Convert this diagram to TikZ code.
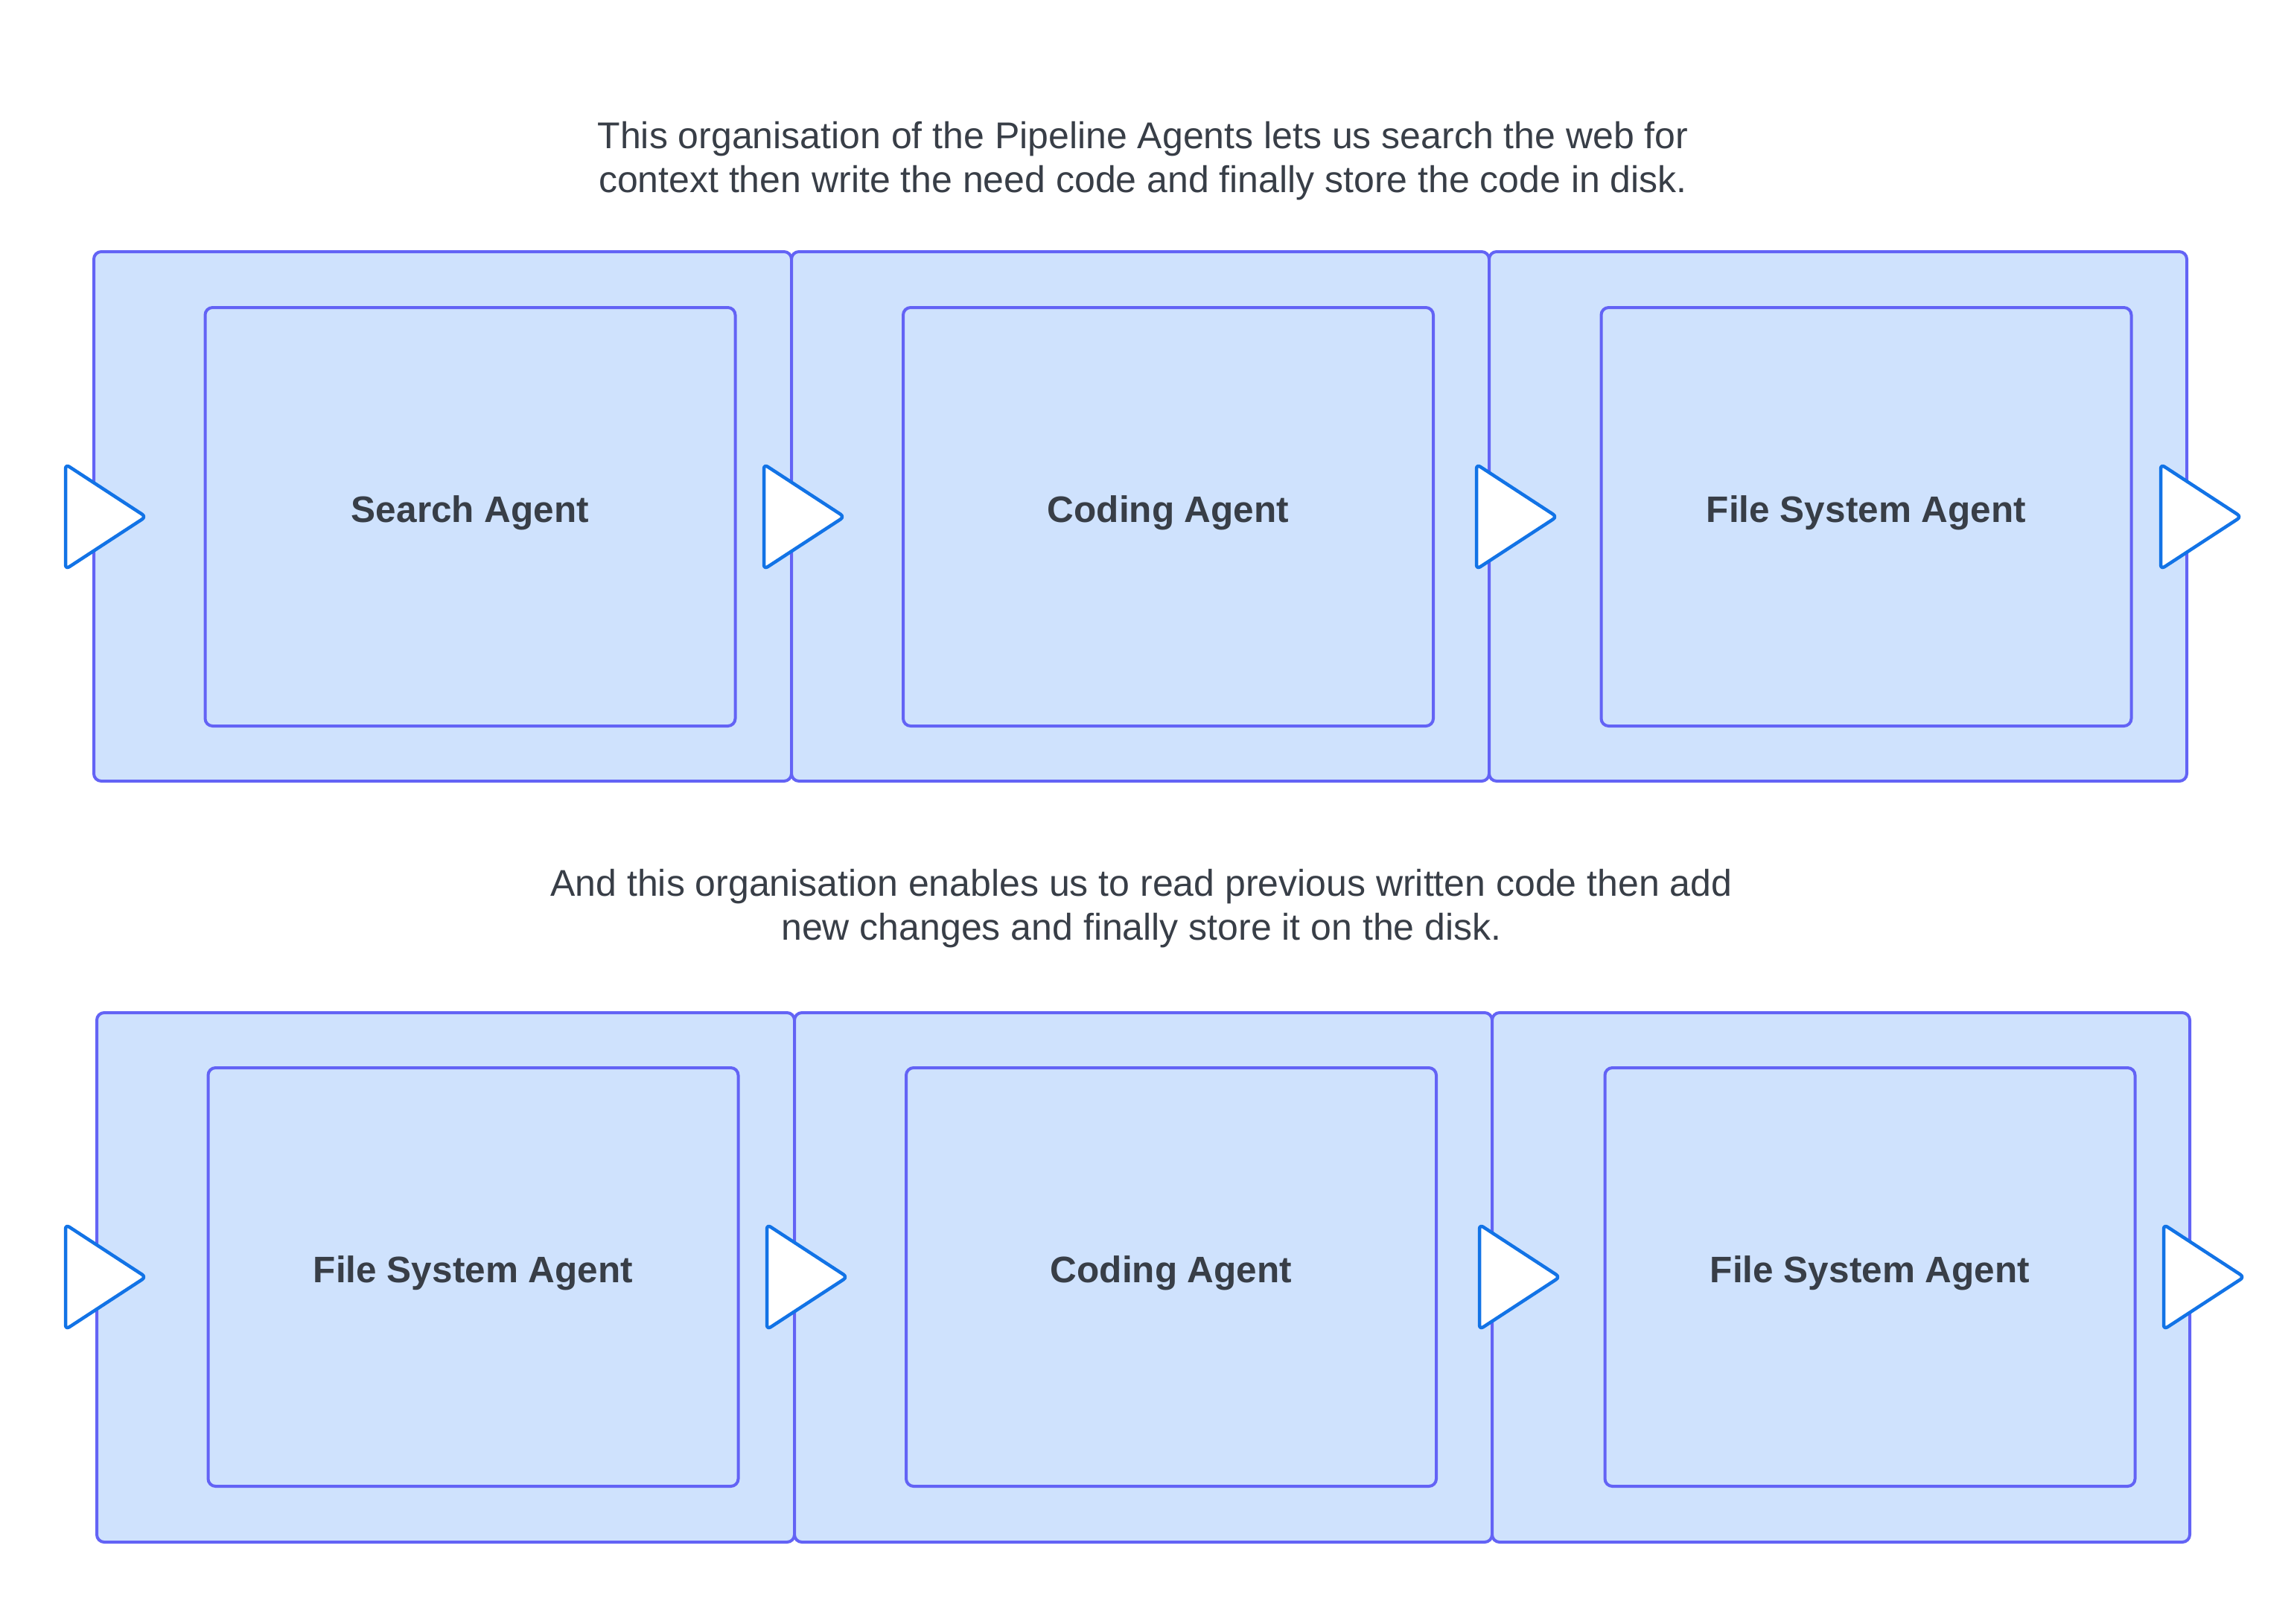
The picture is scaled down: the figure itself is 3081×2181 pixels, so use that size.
\documentclass[tikz,border=0pt]{standalone}
\usepackage{fontspec}
\setmainfont{Liberation Sans}
\definecolor{boxfill}{HTML}{CFE2FD}
\definecolor{boxline}{HTML}{6363F5}
\definecolor{triline}{HTML}{1273E6}
\definecolor{txt}{HTML}{383E47}
\newcommand{\agentlabel}[1]{\raisebox{-7.5pt}[0pt][0pt]{#1}}
\begin{document}
\begin{tikzpicture}[x=1pt,y=-1pt,
  outerbox/.style={draw=boxline,fill=boxfill,line width=4pt,rounded corners=10pt,minimum width=937pt,minimum height=711pt,inner sep=0pt},
  innerbox/.style={draw=boxline,fill=boxfill,line width=4pt,rounded corners=10pt,minimum width=712pt,minimum height=562pt,inner sep=0pt,
    font=\fontsize{49.5}{59}\selectfont\bfseries,text=txt},
  para/.style={align=center,font=\fontsize{50}{59}\selectfont,text=txt,inner sep=0pt},
  tri/.style={draw=triline,fill=white,line width=4.5pt,rounded corners=6pt,line join=round}
]
\useasboundingbox (0,0) rectangle (3081,2181);
% top paragraph
\node[para] (p1) at (1535,216) {This organisation of the Pipeline Agents lets us search the web for\\context then write the need code and finally store the code in disk.};
% top row
\node[outerbox] (o1) at (594.5,693.5) {};
\node[outerbox] (o2) at (1531.5,693.5) {};
\node[outerbox] (o3) at (2468.5,693.5) {};
\node[innerbox] (i1) at (631.5,694) {\agentlabel{Search Agent}};
\node[innerbox] (i2) at (1569,694) {\agentlabel{Coding Agent}};
\node[innerbox] (i3) at (2506.5,694) {\agentlabel{File System Agent}};
\foreach \n/\x in {a1/88,a2/1026,a3/1983,a4/2902}{
  \coordinate (\n) at (\x,694);
  \draw[tri] (\n) ++(0,-70.5) -- ++(108,70.5) -- ++(-108,70.5) -- cycle;
}
% bottom paragraph
\node[para] (p2) at (1533,1220) {And this organisation enables us to read previous written code then add\\new changes and finally store it on the disk.};
% bottom row
\node[outerbox] (o4) at (598.5,1715.5) {};
\node[outerbox] (o5) at (1535.5,1715.5) {};
\node[outerbox] (o6) at (2472.5,1715.5) {};
\node[innerbox] (i4) at (635.5,1715) {\agentlabel{File System Agent}};
\node[innerbox] (i5) at (1573,1715) {\agentlabel{Coding Agent}};
\node[innerbox] (i6) at (2511.5,1715) {\agentlabel{File System Agent}};
\foreach \n/\x in {b1/88,b2/1030,b3/1987,b4/2906}{
  \coordinate (\n) at (\x,1715);
  \draw[tri] (\n) ++(0,-70.5) -- ++(108,70.5) -- ++(-108,70.5) -- cycle;
}
\end{tikzpicture}
\end{document}
